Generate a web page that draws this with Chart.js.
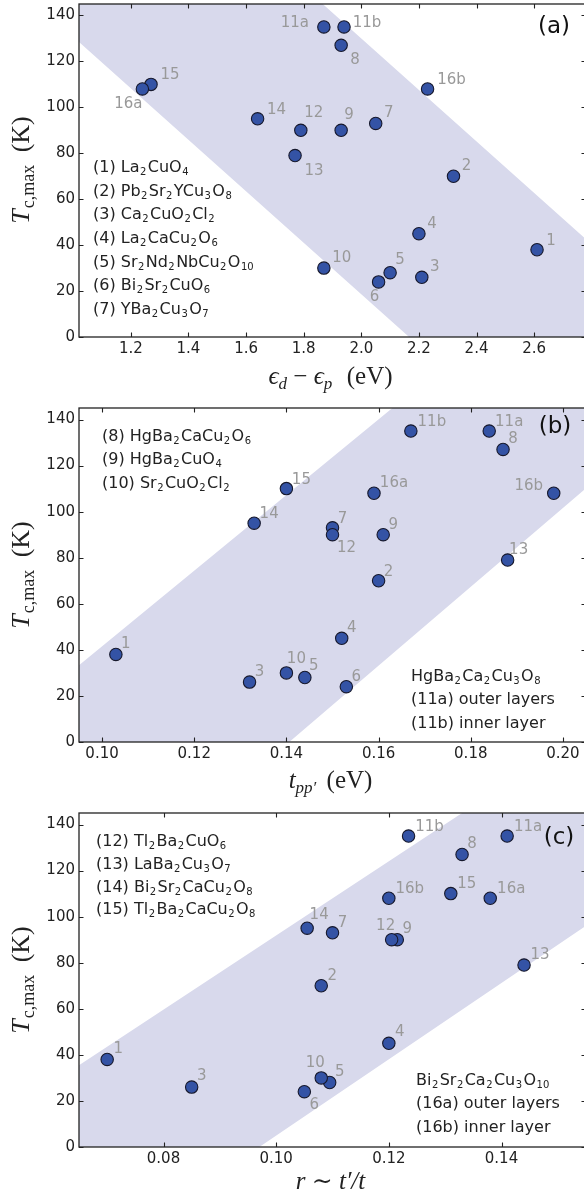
<!DOCTYPE html>
<html><head><meta charset="utf-8">
<script src="https://cdn.jsdelivr.net/npm/chart.js@4/dist/chart.umd.min.js"></script>
<style>
html,body{margin:0;padding:0;background:#fff;width:584px;height:1196px;overflow:hidden;position:relative}
canvas{position:absolute;left:0;display:block}
</style></head><body>
<canvas id="ca" width="588" height="400" style="top:0px"></canvas>
<canvas id="cb" width="588" height="400" style="top:400px"></canvas>
<canvas id="cc" width="588" height="396" style="top:800px"></canvas>
<script>
// ---------------- data ----------------
const ids    = ['1','2','3','4','5','6','7','8','9','10','11a','11b','12','13','14','15','16a','16b'];
const tcMax  = [38, 70, 26, 45, 28, 24, 93, 127, 90, 30, 135, 135, 90, 79, 95, 110, 108, 108];
const epsDiff = [2.61, 2.32, 2.21, 2.20, 2.10, 2.06, 2.05, 1.93, 1.93, 1.87, 1.87, 1.94, 1.79, 1.77, 1.64, 1.27, 1.24, 2.23];
const tppVals = [0.103, 0.160, 0.132, 0.152, 0.144, 0.153, 0.150, 0.187, 0.161, 0.140, 0.184, 0.167, 0.150, 0.188, 0.133, 0.140, 0.159, 0.198];
const rVals   = [0.070, 0.108, 0.085, 0.120, 0.1095, 0.105, 0.110, 0.133, 0.1215, 0.108, 0.141, 0.1235, 0.1205, 0.144, 0.1055, 0.131, 0.138, 0.120];

const yTicks  = [0, 20, 40, 60, 80, 100, 120, 140];
const xTicksA = [1.2, 1.4, 1.6, 1.8, 2.0, 2.2, 2.4, 2.6];
const xTicksB = [0.10, 0.12, 0.14, 0.16, 0.18, 0.20];
const xTicksC = [0.08, 0.10, 0.12, 0.14];

// shaded bands (polygon vertices)
const bandA = [{x:1.02,y:239.8},{x:2.78,y:42.6},{x:2.78,y:-68.8},{x:1.02,y:128.4}];
const bandB = [{x:0.095,y:33.3},{x:0.205,y:214},{x:0.205,y:110.2},{x:0.095,y:-78.1}];
const bandC = [{x:0.065,y:35.5},{x:0.155,y:180.4},{x:0.155,y:96},{x:0.065,y:-53}];

const legendA  = ['(1) La_2CuO_4','(2) Pb_2Sr_2YCu_3O_8','(3) Ca_2CuO_2Cl_2','(4) La_2CaCu_2O_6','(5) Sr_2Nd_2NbCu_2O_{10}','(6) Bi_2Sr_2CuO_6','(7) YBa_2Cu_3O_7'];
const legendB1 = ['(8) HgBa_2CaCu_2O_6','(9) HgBa_2CuO_4','(10) Sr_2CuO_2Cl_2'];
const legendB2 = ['HgBa_2Ca_2Cu_3O_8','(11a) outer layers','(11b) inner layer'];
const legendC1 = ['(12) Tl_2Ba_2CuO_6','(13) LaBa_2Cu_3O_7','(14) Bi_2Sr_2CaCu_2O_8','(15) Tl_2Ba_2CaCu_2O_8'];
const legendC2 = ['Bi_2Sr_2Ca_2Cu_3O_{10}','(16a) outer layers','(16b) inner layer'];

// ---------------- label offsets (pixels) ----------------
const offsA = [[14,-9],[13,-10],[13,-10],[13,-10],[10,-13],[-4,15],[13,-10],[14,15],[8,-15],[18,-10],[-29,-4],[23,-4],[13,-17],[19,16],[19,-9],[19,-9],[-14,15],[24,-9]];
const offsB = [[10,-10],[10,-9],[10,-10],[10,-10],[9,-11],[10,-10],[10,-9],[10,-10],[10,-10],[10,-14],[20,-9],[21,-9],[14,13],[11,-10],[15,-9],[15,-9],[20,-10],[-25,-7]];
const offsC = [[11,-10],[11,-10],[10,-11],[11,-11],[10,-10],[10,13],[10,-10],[10,-10],[10,-11],[-6,-15],[21,-9],[21,-9],[-6,-14],[16,-10],[12,-13],[16,-10],[21,-9],[21,-9]];

// ---------------- styles ----------------
const SANS = '"DejaVu Sans", sans-serif';
const SERIF = '"Liberation Serif", "DejaVu Serif", serif';
const BAND = 'rgb(216,217,236)';
const DOT = '#3453a5';
const DOT_EDGE = '#16182c';
const INK = '#222';
const LABEL_GRAY = '#999';

function parseChem(s){
  const segs=[]; const re=/_(\{([^}]*)\}|(.))/g; let last=0, m;
  while((m=re.exec(s))){
    if(m.index>last) segs.push({t:s.slice(last,m.index)});
    segs.push({t:m[2]||m[3], sub:true});
    last=re.lastIndex;
  }
  if(last<s.length) segs.push({t:s.slice(last)});
  return segs.map(g=> g.sub ? {t:g.t, font:'10px '+SANS, dy:3, padL:0.5, padR:1.4}
                            : {t:g.t, font:'16px '+SANS, dy:0});
}
function richWidth(ctx, segs){
  let w=0; for(const s of segs){ ctx.font=s.font; w+=(s.padL||0)+ctx.measureText(s.t).width+(s.padR||0);} return w;
}
function drawRich(ctx, segs, x, y, align, color){
  ctx.save(); ctx.fillStyle=color||INK; ctx.textBaseline='alphabetic'; ctx.textAlign='left';
  let cx = x; const w = richWidth(ctx, segs);
  if(align==='center') cx = x - w/2; else if(align==='right') cx = x - w;
  for(const s of segs){ ctx.font=s.font; cx+=(s.padL||0); ctx.fillText(s.t, cx, y+(s.dy||0)); cx+=ctx.measureText(s.t).width+(s.padR||0);}
  ctx.restore();
}

const yTitle = [
  {t:'T', font:'italic 26px '+SERIF},
  {t:'c,max', font:'18px '+SERIF, dy:5, padL:1},
  {t:' (K)', font:'26px '+SERIF, padL:6}
];
const xTitleA = [
  {t:'\u03F5', font:'italic 25px '+SERIF},
  {t:'d', font:'italic 17px '+SERIF, dy:5},
  {t:' \u2212 ', font:'25px '+SERIF},
  {t:'\u03F5', font:'italic 25px '+SERIF},
  {t:'p', font:'italic 17px '+SERIF, dy:5},
  {t:'  (eV)', font:'25px '+SERIF, padL:2}
];
const xTitleB = [
  {t:'t', font:'italic 25px '+SERIF},
  {t:'pp\u2032', font:'italic 17px '+SERIF, dy:5},
  {t:' (eV)', font:'25px '+SERIF, padL:4}
];
const xTitleC = [
  {t:'r', font:'italic 25px '+SERIF},
  {t:' \u223C ', font:'25px '+SERIF},
  {t:'t\u2032/t', font:'italic 25px '+SERIF}
];

const panels = [
  {id:'ca', xs:epsDiff, xMin:1.02, xMax:2.78, xTicks:xTicksA, dec:1, band:bandA, offs:offsA,
   padTop:4, bottom:337, tag:'(a)', tagPos:[554,33], xTitle:xTitleA, xTitleY:384, yTitleY:170,
   legends:[{lines:legendA, x:93, y:172.2, dy:23.6}]},
  {id:'cb', xs:tppVals, xMin:0.095, xMax:0.205, xTicks:xTicksB, dec:2, band:bandB, offs:offsB,
   padTop:8, bottom:342, tag:'(b)', tagPos:[555,33], xTitle:xTitleB, xTitleY:388, yTitleY:175,
   legends:[{lines:legendB1, x:102, y:41, dy:23.3},{lines:legendB2, x:411, y:281, dy:23.3}]},
  {id:'cc', xs:rVals, xMin:0.065, xMax:0.155, xTicks:xTicksC, dec:2, band:bandC, offs:offsC,
   padTop:13, bottom:347, tag:'(c)', tagPos:[559,44], xTitle:xTitleC, xTitleY:389, yTitleY:180,
   legends:[{lines:legendC1, x:96, y:46, dy:22.8},{lines:legendC2, x:416, y:285, dy:23.3}]}
];

const framePlugin = {
  id:'frame',
  afterDatasetsDraw(chart, args, opts){
    const ctx=chart.ctx, p=opts.panel;
    const meta=chart.getDatasetMeta(1);
    ctx.save();
    ctx.font='15px '+SANS; ctx.fillStyle=LABEL_GRAY; ctx.textAlign='center'; ctx.textBaseline='middle';
    meta.data.forEach((pt,i)=>{ ctx.fillText(ids[i], pt.x+p.offs[i][0], pt.y+p.offs[i][1]); });
    ctx.restore();
  },
  afterDraw(chart, args, opts){
    const ctx=chart.ctx, a=chart.chartArea, p=opts.panel;
    const xs=chart.scales.x, ys=chart.scales.y;
    ctx.save();
    ctx.strokeStyle=INK; ctx.lineWidth=1.3;
    ctx.strokeRect(a.left, a.top, a.right-a.left, a.bottom-a.top);
    ctx.lineWidth=1.1; const L=4.5;
    ctx.beginPath();
    p.xTicks.forEach(v=>{ const px=Math.round(xs.getPixelForValue(v))+0.5;
      ctx.moveTo(px,a.bottom); ctx.lineTo(px,a.bottom-L); ctx.moveTo(px,a.top); ctx.lineTo(px,a.top+L); });
    yTicks.forEach(v=>{ const py=Math.round(ys.getPixelForValue(v))+0.5;
      ctx.moveTo(a.left,py); ctx.lineTo(a.left+L,py); ctx.moveTo(a.right,py); ctx.lineTo(a.right-L,py); });
    ctx.stroke();
    // panel tag
    ctx.font='23px '+SANS; ctx.fillStyle='#111'; ctx.textAlign='center'; ctx.textBaseline='alphabetic';
    ctx.fillText(p.tag, p.tagPos[0], p.tagPos[1]);
    ctx.restore();
    // legends
    p.legends.forEach(lg=>lg.lines.forEach((s,i)=>drawRich(ctx, parseChem(s), lg.x, lg.y+i*lg.dy, 'left', INK)));
    // x title
    drawRich(ctx, p.xTitle, (a.left+a.right)/2 - 2, p.xTitleY, 'center', INK);
    // y title (rotated)
    ctx.save(); ctx.translate(29, p.yTitleY); ctx.rotate(-Math.PI/2);
    drawRich(ctx, yTitle, 0, 0, 'center', INK);
    ctx.restore();
  }
};

function zeroPad(s){ s.paddingTop=0; s.paddingBottom=0; s.paddingLeft=0; s.paddingRight=0; }

panels.forEach(p=>{
  const canvas=document.getElementById(p.id);
  new Chart(canvas, {
    type:'scatter',
    data:{datasets:[
      {type:'line', data:p.band, fill:'shape', backgroundColor:BAND, borderWidth:0, borderColor:'rgba(0,0,0,0)',
       pointRadius:0, showLine:true, tension:0, order:2},
      {type:'scatter', data:p.xs.map((x,i)=>({x:x, y:tcMax[i]})), pointRadius:6.2, pointBorderWidth:1.1,
       backgroundColor:DOT, borderColor:DOT_EDGE, pointBackgroundColor:DOT, pointBorderColor:DOT_EDGE, order:1}
    ]},
    options:{
      responsive:false, animation:false, events:[],
      layout:{autoPadding:false, padding:{top:p.padTop, right:2, left:0, bottom:0}},
      plugins:{legend:{display:false}, tooltip:{enabled:false}, frame:{panel:p}},
      scales:{
        x:{type:'linear', min:p.xMin, max:p.xMax,
           afterBuildTicks:s=>{ s.ticks=p.xTicks.map(v=>({value:v})); },
           afterFit:s=>{ s.height=canvas.height-p.bottom; zeroPad(s); },
           grid:{display:false, drawTicks:false}, border:{display:false},
           ticks:{font:{family:SANS, size:15}, color:INK, padding:3, maxRotation:0, autoSkip:false,
                  callback:v=>Number(v).toFixed(p.dec)}},
        y:{type:'linear', min:0, max:145,
           afterBuildTicks:s=>{ s.ticks=yTicks.map(v=>({value:v})); },
           afterFit:s=>{ s.width=79; zeroPad(s); },
           grid:{display:false, drawTicks:false}, border:{display:false},
           ticks:{font:{family:SANS, size:15}, color:INK, padding:4, callback:v=>String(v)}}
      }
    },
    plugins:[framePlugin]
  });
});
</script>
</body></html>
